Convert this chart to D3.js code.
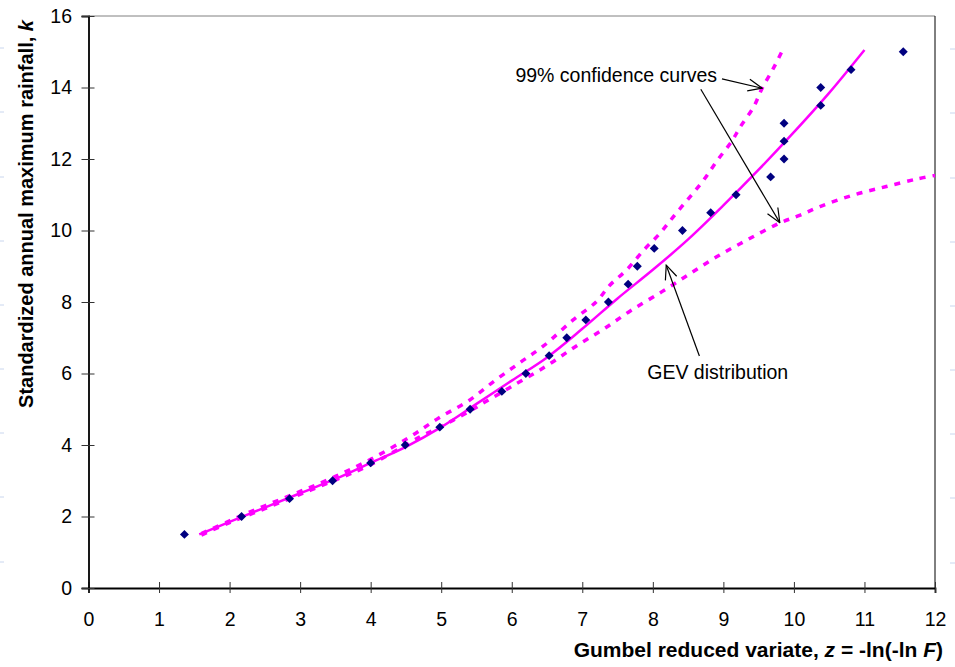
<!DOCTYPE html>
<html>
<head>
<meta charset="utf-8">
<script src="https://cdn.jsdelivr.net/npm/d3@7"></script>
<style>
  body { margin: 0; background: #fff; }
  svg { display: block; font-family: "Liberation Sans", Arial, sans-serif; }
</style>
</head>
<body>
<div id="chart"></div>
<script>
// observed standardized maxima, plotted at their Gumbel reduced variate
var obsZ = [1.36, 2.17, 2.85, 3.46, 4.0, 4.49, 4.98, 5.41, 5.86, 6.2, 6.53, 6.78, 7.05, 7.37,
            7.65, 7.78, 8.02, 8.42, 8.82, 9.18, 9.67, 9.86, 9.86, 9.86, 10.38, 10.38, 10.81, 11.55];
var obsK = [1.5, 2, 2.5, 3, 3.5, 4, 4.5, 5, 5.5, 6, 6.5, 7, 7.5, 8,
            8.5, 9, 9.5, 10, 10.5, 11, 11.5, 12, 12.5, 13, 13.5, 14, 14.5, 15];

// fitted GEV curve
var gevZ = [1.57, 2, 2.5, 3, 3.5, 4, 4.5, 5, 5.5, 6, 6.5, 7, 7.5, 8, 8.5, 9, 9.5, 10, 10.5, 11];
var gevK = [1.5, 1.85, 2.25, 2.65, 3.05, 3.5, 3.95, 4.5, 5.15, 5.8, 6.45, 7.25, 8.1, 8.9, 9.75, 10.7, 11.7, 12.75, 13.85, 15.05];

// 99% confidence curves
var upZ = [1.6, 2, 2.5, 3, 3.5, 4, 4.56, 4.96, 5.39, 5.76, 6.12, 6.45, 6.87, 7.2, 7.39, 7.63,
           7.87, 8.1, 8.31, 8.53, 8.72, 8.91, 9.12, 9.24, 9.43, 9.55, 9.71, 9.84];
var upK = [1.52, 1.88, 2.3, 2.7, 3.12, 3.6, 4.23, 4.75, 5.24, 5.8, 6.31, 6.77, 7.5, 8.01, 8.47, 8.9,
           9.45, 9.92, 10.43, 10.95, 11.41, 11.95, 12.5, 12.9, 13.46, 13.98, 14.54, 15.05];
var loZ = [1.6, 2, 2.5, 3, 3.5, 4, 4.7, 4.96, 5.39, 5.62, 6.07, 6.5, 6.9, 7.3, 7.68, 8.13,
           8.5, 8.91, 9.35, 9.8, 10.09, 10.37, 10.84, 11.31, 11.74, 12];
var loK = [1.48, 1.83, 2.22, 2.62, 3.02, 3.45, 4.23, 4.48, 4.93, 5.2, 5.72, 6.22, 6.75, 7.24, 7.75, 8.29,
           8.76, 9.27, 9.75, 10.21, 10.43, 10.67, 10.99, 11.23, 11.44, 11.54];

var xTicks = [0, 1, 2, 3, 4, 5, 6, 7, 8, 9, 10, 11, 12];
var yTicks = [0, 2, 4, 6, 8, 10, 12, 14, 16];

var W = 955, H = 667;
var mLeft = 88.5, mRight = 935, mTop = 16, mBottom = 588;
var magenta = "#ff00ff";

var svg = d3.select("#chart").append("svg")
    .attr("width", W)
    .attr("height", H);

var x = d3.scaleLinear().domain([0, 12]).range([mLeft, mRight]);
var y = d3.scaleLinear().domain([0, 16]).range([mBottom, mTop]);

// faint marks at the page edges
[48, 112, 177, 241, 305, 369, 433, 497, 562].forEach(function(py){
  svg.append("line").attr("x1", 0).attr("x2", 4).attr("y1", py).attr("y2", py)
    .attr("stroke", "#c9d6ee").attr("stroke-width", 1);
  svg.append("line").attr("x1", 950).attr("x2", 955).attr("y1", py + 1).attr("y2", py + 1)
    .attr("stroke", "#c9d6ee").attr("stroke-width", 1);
});

// top and right frame
svg.append("line").attr("x1", mLeft).attr("x2", mRight).attr("y1", mTop).attr("y2", mTop)
  .attr("stroke", "#808080").attr("stroke-width", 1);
svg.append("line").attr("x1", mRight).attr("x2", mRight).attr("y1", mTop).attr("y2", mBottom)
  .attr("stroke", "#000").attr("stroke-width", 1);

// axes
var gx = svg.append("g")
    .attr("transform", "translate(0," + mBottom + ")")
    .call(d3.axisBottom(x).tickValues(xTicks).tickSizeOuter(0).tickSize(5));
gx.select(".domain").attr("stroke", "#000").attr("stroke-width", 1.8);
gx.selectAll(".tick line").attr("y1", -6).attr("y2", 5).attr("stroke", "#333");
gx.selectAll(".tick text")
  .attr("y", 38).attr("dy", 0)
  .attr("fill", "#000")
  .style("font-size", "19.5px");

var gy = svg.append("g")
    .attr("transform", "translate(" + mLeft + ",0)")
    .call(d3.axisLeft(y).tickValues(yTicks).tickSizeOuter(0).tickSize(7));
gy.select(".domain").attr("stroke", "#000").attr("stroke-width", 1.8);
gy.selectAll(".tick line").attr("x1", -7).attr("x2", 6).attr("stroke", "#333");
gy.selectAll(".tick text")
  .attr("x", -16.5)
  .attr("fill", "#000")
  .style("font-size", "19.5px");
gx.attr("font-family", null);
gy.attr("font-family", null);

// curves
var line = d3.line()
    .x(function(d){ return x(d[0]); })
    .y(function(d){ return y(d[1]); })
    .curve(d3.curveCatmullRom);

function pairs(zs, ks){ return zs.map(function(z, i){ return [z, ks[i]]; }); }

svg.append("path")
  .datum(pairs(loZ, loK))
  .attr("d", line)
  .attr("fill", "none")
  .attr("stroke", magenta)
  .attr("stroke-width", 3.5)
  .attr("stroke-dasharray", "6,7");

svg.append("path")
  .datum(pairs(upZ, upK))
  .attr("d", line)
  .attr("fill", "none")
  .attr("stroke", magenta)
  .attr("stroke-width", 3.5)
  .attr("stroke-dasharray", "6,7");

svg.append("path")
  .datum(pairs(gevZ, gevK))
  .attr("d", line)
  .attr("fill", "none")
  .attr("stroke", magenta)
  .attr("stroke-width", 2.5);

// observed points as diamonds
var diamond = d3.symbol().type(d3.symbolSquare).size(40);
svg.append("g").selectAll("path")
  .data(pairs(obsZ, obsK))
  .enter().append("path")
  .attr("d", diamond)
  .attr("transform", function(d){
    return "translate(" + x(d[0]) + "," + y(d[1]) + ") rotate(45)";
  })
  .attr("fill", "#000080");

// annotations (in data units)
svg.append("defs").append("marker")
  .attr("id", "head")
  .attr("markerUnits", "userSpaceOnUse")
  .attr("viewBox", "0 0 16 14")
  .attr("refX", 15).attr("refY", 7)
  .attr("markerWidth", 16).attr("markerHeight", 14)
  .attr("orient", "auto")
  .append("path")
  .attr("d", "M1,1 L15,7 L1,13")
  .attr("fill", "none")
  .attr("stroke", "#000")
  .attr("stroke-width", 1.2);

var arrows = [
  [[8.98, 14.24], [9.55, 13.98]],
  [[8.68, 13.95], [9.80, 10.22]],
  [[8.66, 6.49], [8.19, 9.03]]
];
arrows.forEach(function(a){
  svg.append("line")
    .attr("x1", x(a[0][0])).attr("y1", y(a[0][1]))
    .attr("x2", x(a[1][0])).attr("y2", y(a[1][1]))
    .attr("stroke", "#000").attr("stroke-width", 1.2)
    .attr("marker-end", "url(#head)");
});

svg.append("text")
  .attr("x", x(8.91)).attr("y", y(14.15))
  .attr("text-anchor", "end")
  .style("font-size", "19.5px")
  .text("99% confidence curves");

svg.append("text")
  .attr("x", x(8.92)).attr("y", y(5.85))
  .attr("text-anchor", "middle")
  .style("font-size", "19.5px")
  .text("GEV distribution");

// axis titles
var ty = svg.append("text")
  .attr("transform", "translate(33,214) rotate(-90)")
  .attr("text-anchor", "middle")
  .style("font-size", "20px")
  .style("font-weight", "bold");
ty.append("tspan").text("Standardized annual maximum rainfall, ");
ty.append("tspan").style("font-style", "italic").text("k");

var tx = svg.append("text")
  .attr("x", 943).attr("y", 657)
  .attr("text-anchor", "end")
  .style("font-size", "21px")
  .style("font-weight", "bold");
tx.append("tspan").text("Gumbel reduced variate, ");
tx.append("tspan").style("font-style", "italic").text("z");
tx.append("tspan").text(" = -ln(-ln ");
tx.append("tspan").style("font-style", "italic").text("F");
tx.append("tspan").text(")");
</script>
</body>
</html>
